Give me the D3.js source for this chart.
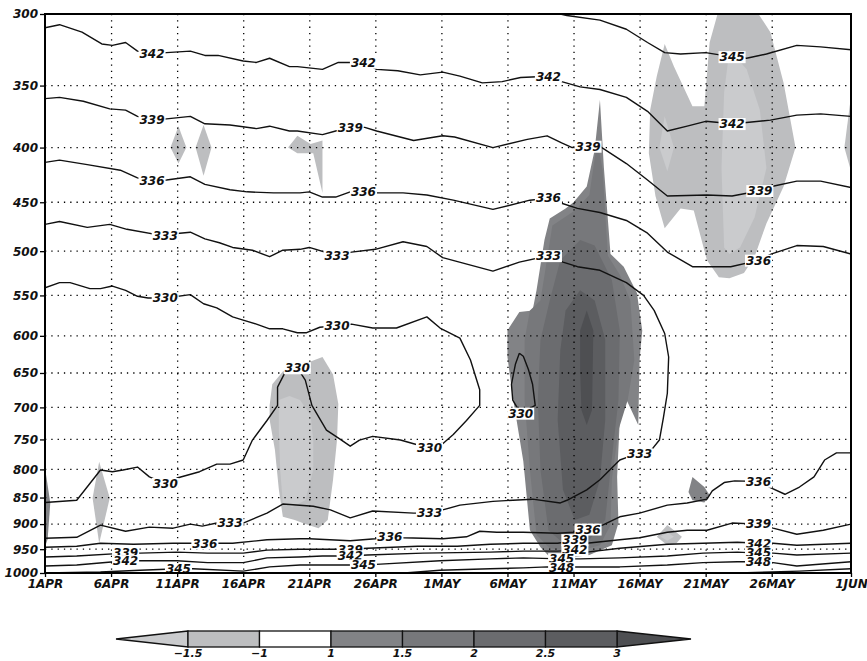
<!DOCTYPE html>
<html>
<head>
<meta charset="utf-8">
<script src="https://d3js.org/d3.v7.min.js"></script>
<style>
  body { margin: 0; background: #fff; }
  text { font-family: "DejaVu Sans", sans-serif; font-weight: bold; font-style: italic; }
</style>
</head>
<body>
<svg id="chart" width="867" height="661"></svg>
<script>
// x = days after 1 April, y = pressure (hPa)
var tickDays = [0, 5, 10, 15, 20, 25, 30, 35, 40, 45, 50, 55, 61];
var tickNames = ["1APR", "6APR", "11APR", "16APR", "21APR", "26APR", "1MAY",
                 "6MAY", "11MAY", "16MAY", "21MAY", "26MAY", "1JUN"];
var levels = [300, 350, 400, 450, 500, 550, 600, 650, 700, 750, 800, 850, 900, 950, 1000];

// shading classes (anomaly)
var shadeBreaks = [-1.5, -1, 1, 1.5, 2, 2.5, 3];
var shadeColors = ["#cacbcd", "#bdbec0", "#ffffff", "#828386", "#77787b", "#6b6c6f", "#5c5d60", "#4e4f52"];

// shaded areas [day, hPa]
var dipA = [[10.1,382],[10.7,400],[10.1,414],[9.5,400]];
var dipB = [[12,381],[12.6,400],[12,425],[11.4,400]];
var dip21 = [[18.4,400],[19.1,390],[20.1,397],[21,394],[21,441],[20.3,405],[19.1,405]];
var dip6 = [[4.1,787],[4.9,851],[4.1,938],[3.6,851]];
var edgeWarm = [[0,797],[0.4,860],[0.2,930],[0,945]];
var blob21 = [[17,697],[17.2,666],[18,648],[18.9,638],[20.1,634],[21,628],[21.8,652],[22.2,695],
              [22.1,751],[21.8,818],[21.4,892],[20.7,908],[19.7,900],[18.9,892],[18,886],[17.7,836],[17.4,767],[17,719]];
var blob21Core = [[17.7,689],[18.5,683],[19.3,689],[20.1,712],[20.3,751],[20.3,801],[19.7,855],
                  [18.7,868],[18,860],[17.8,801],[17.7,735]];
var lateUpper = [[46.9,320],[47.6,336],[49,366],[49.9,366],[50.3,319],[50.9,300],[54,300],[54.9,312],
                 [55.9,348],[56.8,400],[55.9,435],[54.6,471],[53.7,506],[52.9,524],[51.8,530],[51,529],
                 [50.1,510],[49.1,458],[48.1,456],[46.9,476],[46.2,444],[45.7,405],[45.8,369],[46.3,343]];
var lateUpperCore = [[51.8,324],[53.1,338],[54.1,369],[54.6,418],[53.7,465],[52.6,496],[51.8,503],
                     [51.4,496],[51.2,418],[51.4,355]];
var lateUpperDot = [[46.9,374],[47.6,400],[47.1,421],[46.5,400]];
var rightSliver = [[61,358],[60.5,400],[61,421]];
var may18Low = [[47.1,902],[48.2,925],[47.8,938],[47.1,942],[46.3,925]];
var may18Core = [[47.1,916],[47.6,925],[47.1,933],[46.6,925]];
var may21Warm = [[49,813],[49.9,831],[50.3,846],[49.9,859],[49,855],[48.7,840]];
var may11L1 = [[37.2,544],[37.8,488],[38.2,466],[39.4,456],[40,450],[41,435],[41.6,402],[42,361],
               [42.3,418],[42.8,503],[43.8,517],[44.8,547],[45.2,593],[45,632],[44.9,727],[43.9,684],
               [43.5,719],[43.3,813],[43.4,898],[42.9,942],[41.2,962],[39.7,968],[38.4,972],[37.5,946],
               [36.7,912],[36.2,786],[35.4,684],[35,628],[35,593],[35.9,570],[36.9,568]];
var may11L2 = [[37.5,556],[38.4,473],[40.1,458],[41.2,443],[41.8,394],[42.2,420],[42.6,505],[43.5,526],
               [44.3,556],[44.6,632],[44.1,689],[43.4,735],[42.9,818],[42.8,902],[42,942],[40.1,956],
               [38.2,948],[37.2,921],[36.7,801],[36.3,689],[36.3,605],[36.7,568]];
var may11L3 = [[38.2,556],[39,510],[40.5,488],[41.6,494],[42.9,532],[43.5,593],[43.4,689],[42.8,801],
               [42.4,892],[41.2,931],[39.4,942],[38.1,912],[37.5,801],[37.3,689],[37.5,605]];
var may11L4 = [[39.4,568],[40.5,544],[41.6,556],[42.4,605],[42.4,719],[42,818],[41.2,882],[40.1,892],
               [39.2,836],[38.8,719],[39,619]];
var may11L5 = [[40.5,593],[41,568],[41.5,593],[41.4,704],[41,727],[40.6,704],[40.5,646]];
var shades = [
  [-1.2, dipA], [-1.2, dipB], [-1.2, dip21], [-1.2, dip6], [1.2, edgeWarm],
  [-1.2, blob21], [-1.7, blob21Core],
  [-1.2, lateUpper], [-1.7, lateUpperCore], [-1.7, lateUpperDot], [-1.2, rightSliver],
  [-1.2, may18Low], [-1.7, may18Core], [1.2, may21Warm],
  [1.2, may11L1], [1.7, may11L2], [2.2, may11L3], [2.7, may11L4], [3.2, may11L5]
];

// contour lines [day, hPa]
var c345a = [[39,300],[39.5,301],[42,304],[44,310],[45.6,319],[46.9,326],[48.1,327],[50,326],[52,329],
             [53.1,330],[54.6,327],[56.9,321],[58.7,322],[61,324]];
var c342a = [[0,309],[1.1,307],[2.8,312],[4.3,320],[5.1,321],[6.1,319],[7,325],[8.1,327],[9.2,326],
             [11,325],[12.1,328],[13.1,328],[15,332],[16,333],[17,330],[18.5,336],[19.1,336],[21,338],
             [22.2,333],[24.1,333],[25.1,338],[26.7,339],[28.4,342],[30.1,340],[31.4,343],[33.1,348],
             [34.6,347],[36,344],[38.1,343],[39.1,347],[40.5,351],[42,353],[44,359],[45.6,370],[47.1,386],
             [48.6,382],[50,378],[52,380],[53.1,379],[54.9,377],[56.9,373],[58.7,372],[61,374]];
var c339a = [[0,360],[1.1,359],[2.9,362],[4.9,368],[6.1,369],[7,374],[8.1,377],[9.2,376],[11,374],
             [12.1,380],[14,381],[16,384],[17,382],[18.5,386],[19.1,386],[21,389],[22,386],[23.1,383],
             [24.2,383],[25.1,386],[27.9,394],[30.1,390],[31,391],[33.9,400],[36.5,393],[38,390],
             [39.1,396],[39.9,400],[41.1,399],[42,399],[44,414],[45.6,429],[47.1,444],[50.1,443],
             [52,444],[54.1,439],[55,435],[56.9,430],[58.7,430],[61,436]];
var c336a = [[0,413],[1.1,411],[3.2,415],[5.7,420],[7,427],[8.1,430],[9.2,429],[11,426],[12.1,433],
             [14,438],[15.3,440],[17.3,441],[19.3,441],[20,440],[21,445],[22,445],[23.1,440],[25.1,441],
             [27.1,441],[28.9,443],[30.9,448],[33.9,457],[36.7,448],[38.1,446],[39.1,451],[40.3,456],
             [42,460],[44,468],[45.6,481],[47.1,501],[49,517],[51.9,517],[54,510],[55,503],[56.9,494],
             [58.9,495],[61,503]];
var c333 = [[0,472],[1.1,469],[3.2,475],[4.9,472],[6.2,477],[9.1,484],[10.2,481],[11,480],[12.1,487],
            [13.2,491],[14.2,496],[15.7,499],[17,506],[18,499],[19.3,498],[20,496],[22.1,505],[23.2,501],
            [25,498],[27.1,490],[28.9,495],[30.1,507],[33.9,522],[35.9,512],[38.1,505],[39.2,512],
            [40.3,517],[42,521],[44,535],[45.3,550],[46.1,568],[46.9,597],[47.2,628],[47.1,679],
            [46.8,716],[46.5,751],[45.9,767],[45,774],[44.1,779],[43.5,784],[42,818],[41,836],[39.5,855],
            [39,860],[36.9,853],[33.9,857],[31.4,864],[30.1,873],[29.1,879],[27.9,879],[24.8,875],
            [23.1,888],[21.6,873],[20.3,866],[18,862],[16.8,879],[15,898],[14,898],[13,898],[11.9,904],
            [11,900],[9.7,908],[7.9,906],[6.1,914],[4.2,902],[2.4,926],[0,928]];
var c330 = [[0,541],[1.1,535],[1.9,535],[3.4,542],[4.2,542],[5.1,539],[6.1,544],[7,551],[7.8,553],
            [9.1,553],[11,549],[12,560],[13,565],[14.2,576],[15,580],[16,585],[17,591],[18,591],
            [19.1,596],[19.8,596],[20.8,589],[22.1,587],[23.2,585],[24.8,590],[26.6,590],[28.9,576],
            [29.9,590],[31.4,603],[32.2,632],[32.9,674],[32.9,697],[31.9,720],[30.9,742],[30.1,757],
            [29.1,764],[27.9,757],[26.9,751],[24.8,745],[23.8,751],[23.1,761],[22.3,749],[21.3,735],
            [20.2,697],[19.7,660],[19.1,643],[18.2,648],[17.6,670],[17.6,697],[16.8,720],[15.7,751],
            [15,784],[14,791],[13,791],[11.7,804],[10,815],[9.1,825],[7.9,813],[7,796],[5.9,801],
            [5.1,804],[4.2,801],[2.4,855],[0,859]];
var c330b = [[35.9,623],[35.6,638],[35.3,666],[35.4,689],[36,709],[37.1,697],[36.9,666],[36.6,646],
             [36.2,627],[35.9,623]];
var c336b = [[0,946],[2.4,944],[4.2,938],[6.7,940],[9.7,938],[12.1,938],[14.2,938],[16.8,931],[19.3,929],
             [20,929],[23.1,933],[25,929],[26.1,925],[27.1,927],[30.1,929],[31.9,925],[32.9,914],[34.2,916],
             [36.2,916],[38.8,918],[40,916],[41.1,910],[42.2,902],[43.5,886],[45,879],[47.1,864],[48.6,860],
             [50.1,853],[50.5,838],[51.4,823],[52.2,820],[54,821],[54.9,832],[56,844],[57.1,831],[58.2,813],
             [59,784],[59.9,772],[61,772]];
var c339b = [[0,966],[2.4,964],[6.1,958],[7.2,958],[10,956],[12.3,958],[15,958],[16.8,952],[19.3,950],
             [21,950],[23.1,950],[24.4,948],[28.2,944],[31.2,944],[33.7,940],[36.2,938],[38.8,938],
             [40.1,933],[41,938],[43.5,931],[45,927],[47.1,916],[48.6,912],[50.1,912],[52,898],[54,900],
             [55.1,908],[56.9,920],[58.9,912],[61,900]];
var c342b = [[0,985],[2.4,983],[6.1,974],[7.2,974],[10,974],[12.3,978],[15,978],[16.8,968],[19.3,966],
             [21,964],[23.1,964],[24.4,962],[28.6,958],[33.7,956],[36.2,954],[38.8,954],[40.1,952],[41,956],
             [43.5,948],[47.1,940],[49.8,938],[52.4,936],[54,938],[55.1,938],[56.9,942],[61,938]];
var c345b = [[0,1000],[4.2,998],[7.2,994],[10.1,991],[11.2,991],[15,996],[17,987],[19.3,983],[21,983],
             [24.1,983],[25.4,981],[29.9,974],[33.7,970],[36.2,968],[39.1,970],[40.5,970],[43.5,968],
             [47.1,964],[49.8,958],[52.4,956],[54,958],[55.1,958],[56.9,962],[61,958]];
var c348 = [[27.2,1000],[29.9,994],[33.7,991],[36.2,989],[38,987],[39.1,987],[40.3,987],[43.5,987],
            [47.1,983],[49.8,978],[52.4,976],[54,976],[55.1,978],[56.9,985],[61,976]];
var c351 = [[52.5,1000],[57.1,996],[61,991]];
var contours = [c345a, c342a, c339a, c336a, c333, c330, c330b, c336b, c339b, c342b, c345b, c348, c351];

// contour labels [day, hPa, text]
var contourLabels = [
  [8.1,327,"342"], [24.1,333,"342"], [38.1,343,"342"], [52,329,"345"], [52,380,"342"],
  [8.1,377,"339"], [23.1,383,"339"], [41.1,399,"339"], [54.1,439,"339"],
  [8.1,430,"336"], [24.1,440,"336"], [38.1,446,"336"], [54,510,"336"],
  [9.1,484,"333"], [22.1,505,"333"], [38.1,505,"333"], [45,774,"333"], [29.1,879,"333"], [14,898,"333"],
  [9.1,553,"330"], [22.1,587,"330"], [29.1,764,"330"], [19.1,643,"330"], [9.1,825,"330"], [36,709,"330"],
  [12.1,938,"336"], [26.1,925,"336"], [41.1,910,"336"], [54,821,"336"],
  [6.1,958,"339"], [23.1,950,"339"], [40.1,931,"339"], [54,900,"339"],
  [6.1,974,"342"], [23.1,964,"342"], [40.1,952,"342"], [54,938,"342"],
  [10.1,991,"345"], [24.1,983,"345"], [39.1,970,"345"], [54,958,"345"],
  [39.1,989,"348"], [54,976,"348"]
];

var W = 867, H = 661, L = 45, R = 851, T = 14, B = 573;
var svg = d3.select("#chart");
svg.append("rect").attr("width", W).attr("height", H).attr("fill", "#fff");

var x = d3.scaleLinear().domain([0, 61]).range([L, R]);
var y = d3.scaleLog().domain([300, 1000]).range([T, B]);
var fill = d3.scaleThreshold().domain(shadeBreaks).range(shadeColors);

svg.append("defs").append("clipPath").attr("id", "plotclip")
  .append("rect").attr("x", L).attr("y", T).attr("width", R - L).attr("height", B - T);
var plot = svg.append("g").attr("clip-path", "url(#plotclip)");

var line = d3.line().x(d => x(d[0])).y(d => y(d[1]));

// shading
plot.selectAll("path.shade").data(shades).enter().append("path")
  .attr("class", "shade")
  .attr("d", d => line(d[1]) + "Z")
  .attr("fill", d => fill(d[0]));

// dotted grid
plot.selectAll("line.vg").data(tickDays.slice(1, -1)).enter().append("line")
  .attr("x1", d => x(d) + 0.5).attr("x2", d => x(d) + 0.5).attr("y1", T).attr("y2", B)
  .attr("stroke", "#000").attr("stroke-width", 1.3).attr("stroke-dasharray", "1.3,5");
plot.selectAll("line.hg").data(levels.slice(1, -1)).enter().append("line")
  .attr("x1", L).attr("x2", R).attr("y1", d => y(d)).attr("y2", d => y(d))
  .attr("stroke", "#000").attr("stroke-width", 1.3).attr("stroke-dasharray", "1.3,5");

// contours
plot.selectAll("path.cont").data(contours).enter().append("path")
  .attr("class", "cont")
  .attr("d", line)
  .attr("fill", "none").attr("stroke", "#111").attr("stroke-width", 1.4)
  .attr("stroke-linejoin", "round");

// contour labels with white boxes
contourLabels.forEach(function (l) {
  var g = plot.append("g").attr("transform", "translate(" + x(l[0]) + "," + y(l[1]) + ")");
  var t = g.append("text").attr("text-anchor", "middle").attr("dy", "0.36em")
    .attr("font-size", 12).attr("fill", "#111").text(l[2]);
  var b = t.node().getBBox();
  g.insert("rect", "text").attr("x", b.x - 1).attr("y", b.y + 1)
    .attr("width", b.width + 2).attr("height", b.height - 2).attr("fill", "#fff");
});

// frame
svg.append("rect").attr("x", L).attr("y", T).attr("width", R - L).attr("height", B - T)
  .attr("fill", "none").attr("stroke", "#000").attr("stroke-width", 2);

// axes
var ay = svg.append("g").attr("transform", "translate(" + L + ",0)")
  .call(d3.axisLeft(y).tickValues(levels).tickFormat(d3.format("d")).tickSize(5).tickPadding(2));
ay.select(".domain").remove();
ay.attr("font-size", 12);
ay.selectAll("line").attr("stroke-width", 1.3);
ay.selectAll("text").attr("fill", "#111");

var ax = svg.append("g").attr("transform", "translate(0," + B + ")")
  .call(d3.axisBottom(x).tickValues(tickDays).tickFormat((d, i) => tickNames[i]).tickSize(4).tickPadding(2));
ax.select(".domain").remove();
ax.attr("font-size", 12);
ax.selectAll("line").attr("stroke-width", 1.3);
ax.selectAll("text").attr("fill", "#111");

// colour bar
var cb = svg.append("g");
var cbx = d3.scaleLinear().domain([0, shadeBreaks.length - 1]).range([188, 617]);
var y0 = 631, y1 = 647, ym = (y0 + y1) / 2;
cb.append("path")
  .attr("d", "M" + cbx(0) + "," + y0 + "L116," + ym + "L" + cbx(0) + "," + y1 + "Z")
  .attr("fill", shadeColors[0]).attr("stroke", "#111").attr("stroke-width", 1.3);
cb.append("path")
  .attr("d", "M" + cbx(6) + "," + y0 + "L691," + ym + "L" + cbx(6) + "," + y1 + "Z")
  .attr("fill", shadeColors[7]).attr("stroke", "#111").attr("stroke-width", 1.3);
cb.selectAll("rect").data(d3.range(shadeBreaks.length - 1)).enter().append("rect")
  .attr("x", i => cbx(i)).attr("y", y0)
  .attr("width", i => cbx(i + 1) - cbx(i)).attr("height", y1 - y0)
  .attr("fill", i => shadeColors[i + 1]).attr("stroke", "#111").attr("stroke-width", 1.3);
cb.selectAll("text").data(shadeBreaks).enter().append("text")
  .attr("x", (d, i) => cbx(i)).attr("y", 657)
  .attr("text-anchor", "middle").attr("font-size", 11).attr("fill", "#111")
  .text(d => String(d).replace("-", "\u2212"));
</script>
</body>
</html>
